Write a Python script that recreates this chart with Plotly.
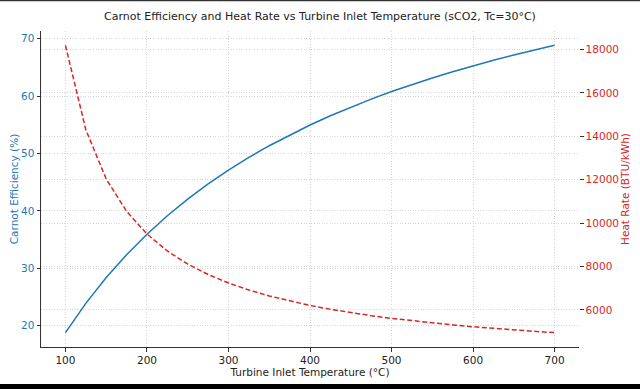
import plotly.graph_objects as go

temps_c = [100, 125, 150, 175, 200, 225, 250, 275, 300, 325, 350, 375, 400,
           425, 450, 475, 500, 525, 550, 575, 600, 625, 650, 675, 700]
carnot_eff = [18.76, 23.86, 28.36, 32.36, 35.93, 39.15, 42.05, 44.70, 47.11,
              49.32, 51.35, 53.23, 54.97, 56.58, 58.08, 59.48, 60.79, 62.02,
              63.17, 64.26, 65.28, 66.25, 67.16, 68.03, 68.85]
heat_rate = [18188, 14301, 12032, 10544, 9497, 8716, 8114, 7634, 7243, 6918,
             6645, 6410, 6207, 6031, 5875, 5737, 5613, 5502, 5402, 5310, 5227,
             5150, 5081, 5016, 4956]
x_ticks = [100, 200, 300, 400, 500, 600, 700]
left_ticks = [20, 30, 40, 50, 60, 70]
right_ticks = [6000, 8000, 10000, 12000, 14000, 16000, 18000]

BLUE = "#1f77b4"
RED = "#d62728"
FONT = "DejaVu Sans"
GRID = "#d6d6d6"
GDASH = "1px,1.6px"

fig = go.Figure()
fig.add_trace(go.Scatter(x=temps_c, y=carnot_eff, mode="lines",
                         line=dict(color=BLUE, width=1.5), yaxis="y"))
fig.add_trace(go.Scatter(x=temps_c, y=heat_rate, mode="lines",
                         line=dict(color=RED, width=1.5, dash="5px,2.5px"), yaxis="y2"))

L, R, T, B = 40.5, 61, 31, 42
fig.update_layout(
    width=640, height=389,
    margin=dict(l=L, r=R, t=T, b=B, pad=0),
    paper_bgcolor="white", plot_bgcolor="white",
    showlegend=False,
    font=dict(family=FONT, size=10.5, color="#222"),
    title=dict(text="Carnot Efficiency and Heat Rate vs Turbine Inlet Temperature (sCO2, Tc=30°C)",
               x=0.5, xanchor="center", xref="container",
               y=1 - 16 / 389, yref="container", yanchor="middle",
               font=dict(family=FONT, size=11, color="#222")),
    xaxis=dict(range=[70, 730], tickvals=x_ticks, showline=True, linecolor="#333",
               linewidth=1, ticks="outside", ticklen=3.5, tickcolor="#333",
               showgrid=True, gridcolor=GRID, griddash=GDASH, gridwidth=0.8,
               zeroline=False, automargin=False, tickfont=dict(size=10.5, color="#222"),
               title=dict(text="Turbine Inlet Temperature (°C)", standoff=3,
                          font=dict(size=10.5, color="#222"))),
    yaxis=dict(range=[16.26, 71.35], tickvals=left_ticks, showline=True, linecolor="#333",
               linewidth=1, ticks="outside", ticklen=3.5, tickcolor="#333",
               showgrid=True, gridcolor=GRID, griddash=GDASH, gridwidth=0.8,
               zeroline=False, automargin=False, tickfont=dict(size=10.5, color=BLUE),
               title=dict(text="Carnot Efficiency (%)", standoff=0,
                          font=dict(size=10.5, color=BLUE))),
    yaxis2=dict(range=[4294, 18850], tickvals=right_ticks,
                ticktext=[str(v) for v in right_ticks],
                overlaying="y", side="right",
                showline=False, ticks="outside", ticklen=3.5, tickcolor="#333",
                showgrid=True, gridcolor=GRID, griddash=GDASH, gridwidth=0.8,
                zeroline=False, automargin=False, tickfont=dict(size=10.5, color=RED),
                title=dict(text="Heat Rate (BTU/kWh)", standoff=3,
                           font=dict(size=10.5, color=RED))),
)

ph = 389 - T - B
bottom_px = 389 - B
fig.add_shape(type="rect", xref="paper", yref="paper",
              x0=-0.2, x1=1.2, y0=-(384 - bottom_px) / ph, y1=-(400 - bottom_px) / ph,
              fillcolor="black", line=dict(width=0), layer="above")
fig.add_shape(type="rect", xref="paper", yref="paper",
              x0=-0.2, x1=1.2, y0=1 + (T - 1.2) / ph, y1=1 + (T + 10) / ph,
              fillcolor="#333", line=dict(width=0), layer="above")

fig.write_html("out.html", config={"displayModeBar": False},
               post_script="document.body.style.margin='0';document.body.style.overflow='hidden';")
